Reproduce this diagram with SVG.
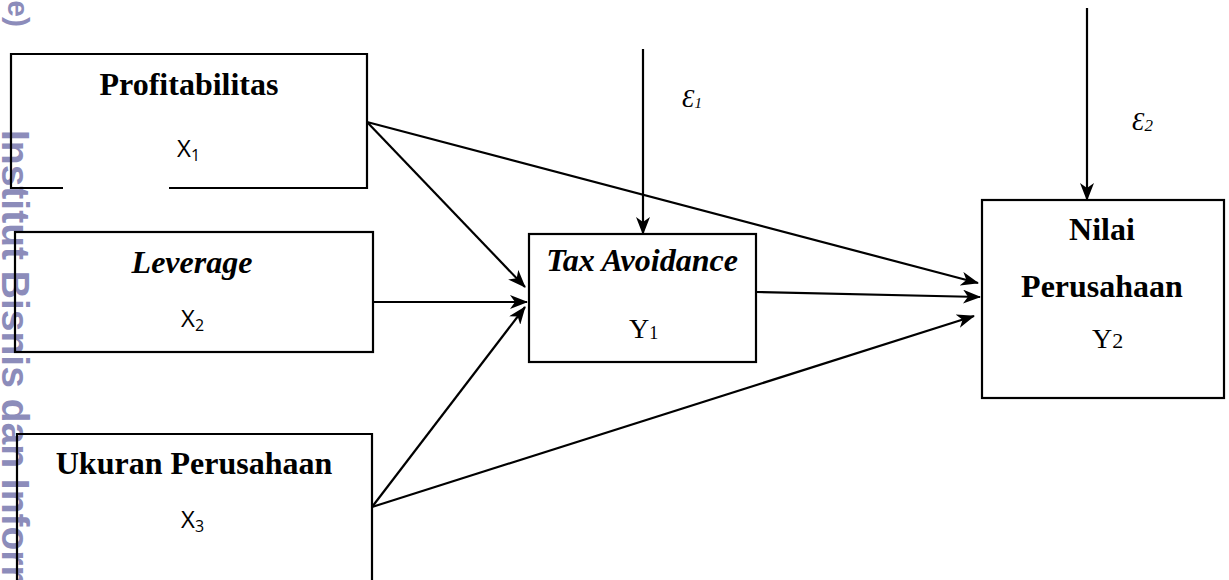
<svg xmlns="http://www.w3.org/2000/svg" width="1229" height="580" viewBox="0 0 1229 580">
<style>
.box{fill:none;stroke:#000;stroke-width:2.2}
.ln{fill:none;stroke:#000;stroke-width:2.2}
.t{font-family:"Liberation Serif","Times New Roman",serif;font-weight:bold;font-size:32px;fill:#000;text-anchor:middle}
.ti{font-style:italic}
.x{font-family:"Open Sans","Liberation Sans",sans-serif;font-size:24px;fill:#000}
.y{font-family:"Liberation Serif","Times New Roman",serif;font-size:28px;fill:#000}
.e{font-family:"Liberation Serif","DejaVu Serif",serif;font-style:italic;font-size:25px;fill:#000}
.wm{font-family:"Liberation Sans",Arial,sans-serif;font-weight:bold;fill:#8c8cba}
</style>
<defs>
<marker id="ah" viewBox="0 0 18 14" refX="17" refY="7" markerWidth="18" markerHeight="14" markerUnits="userSpaceOnUse" orient="auto">
<path d="M0,0 L18,7 L0,14 L5,7 Z" fill="#000"/>
</marker>
</defs>
<rect width="1229" height="580" fill="#fff"/>
<g id="watermark">
<text class="wm" font-size="30" text-anchor="end" transform="translate(8,27) rotate(90)">ie)</text>
<text class="wm" font-size="39" transform="translate(2,130) rotate(90)">Institut Bisnis dan Inform</text>
</g>
<g id="connectors">
<line class="ln" x1="367" y1="122" x2="525" y2="287" marker-end="url(#ah)"/>
<line class="ln" x1="367" y1="122" x2="978" y2="283" marker-end="url(#ah)"/>
<line class="ln" x1="373" y1="302" x2="527" y2="302" marker-end="url(#ah)"/>
<line class="ln" x1="372" y1="507" x2="525" y2="307" marker-end="url(#ah)"/>
<line class="ln" x1="372" y1="507" x2="974" y2="316" marker-end="url(#ah)"/>
<line class="ln" x1="756" y1="292" x2="980" y2="297" marker-end="url(#ah)"/>
<line class="ln" x1="643" y1="49" x2="643" y2="234" marker-end="url(#ah)"/>
<line class="ln" x1="1087" y1="8" x2="1087" y2="200" marker-end="url(#ah)"/>
</g>
<g id="profitabilitas">
<path class="box" d="M63,188 H11 V54 H367 V188 H169"/>
<text class="t" x="189" y="95">Profitabilitas</text>
<text class="x" x="177" y="157">X<tspan font-size="16" dy="4">1</tspan></text>
</g>
<g id="leverage">
<rect class="box" x="15" y="232" width="358" height="120"/>
<text class="t ti" x="192" y="273">Leverage</text>
<text class="x" x="181" y="327">X<tspan font-size="16" dy="4">2</tspan></text>
</g>
<g id="ukuran">
<path class="box" d="M17,600 V434 H372 V600"/>
<text class="t" x="194" y="474">Ukuran Perusahaan</text>
<text class="x" x="181" y="528">X<tspan font-size="16" dy="4">3</tspan></text>
</g>
<g id="tax">
<rect class="box" x="529" y="234" width="227" height="128"/>
<text class="t ti" x="642" y="271" font-size="28">Tax Avoidance</text>
<text class="y" x="629" y="338">Y<tspan font-size="18" dy="1">1</tspan></text>
</g>
<g id="nilai">
<rect class="box" x="982" y="200" width="242" height="198"/>
<text class="t" x="1102" y="240">Nilai</text>
<text class="t" x="1102" y="297">Perusahaan</text>
<text class="y" x="1092" y="348">Y<tspan font-size="22">2</tspan></text>
</g>
<g id="e1">
<text class="e" x="682" y="107">Ɛ<tspan font-size="15" dy="1">1</tspan></text>
</g>
<g id="e2">
<text class="e" x="1132" y="130">Ɛ<tspan font-size="17" dy="1">2</tspan></text>
</g>
</svg>
